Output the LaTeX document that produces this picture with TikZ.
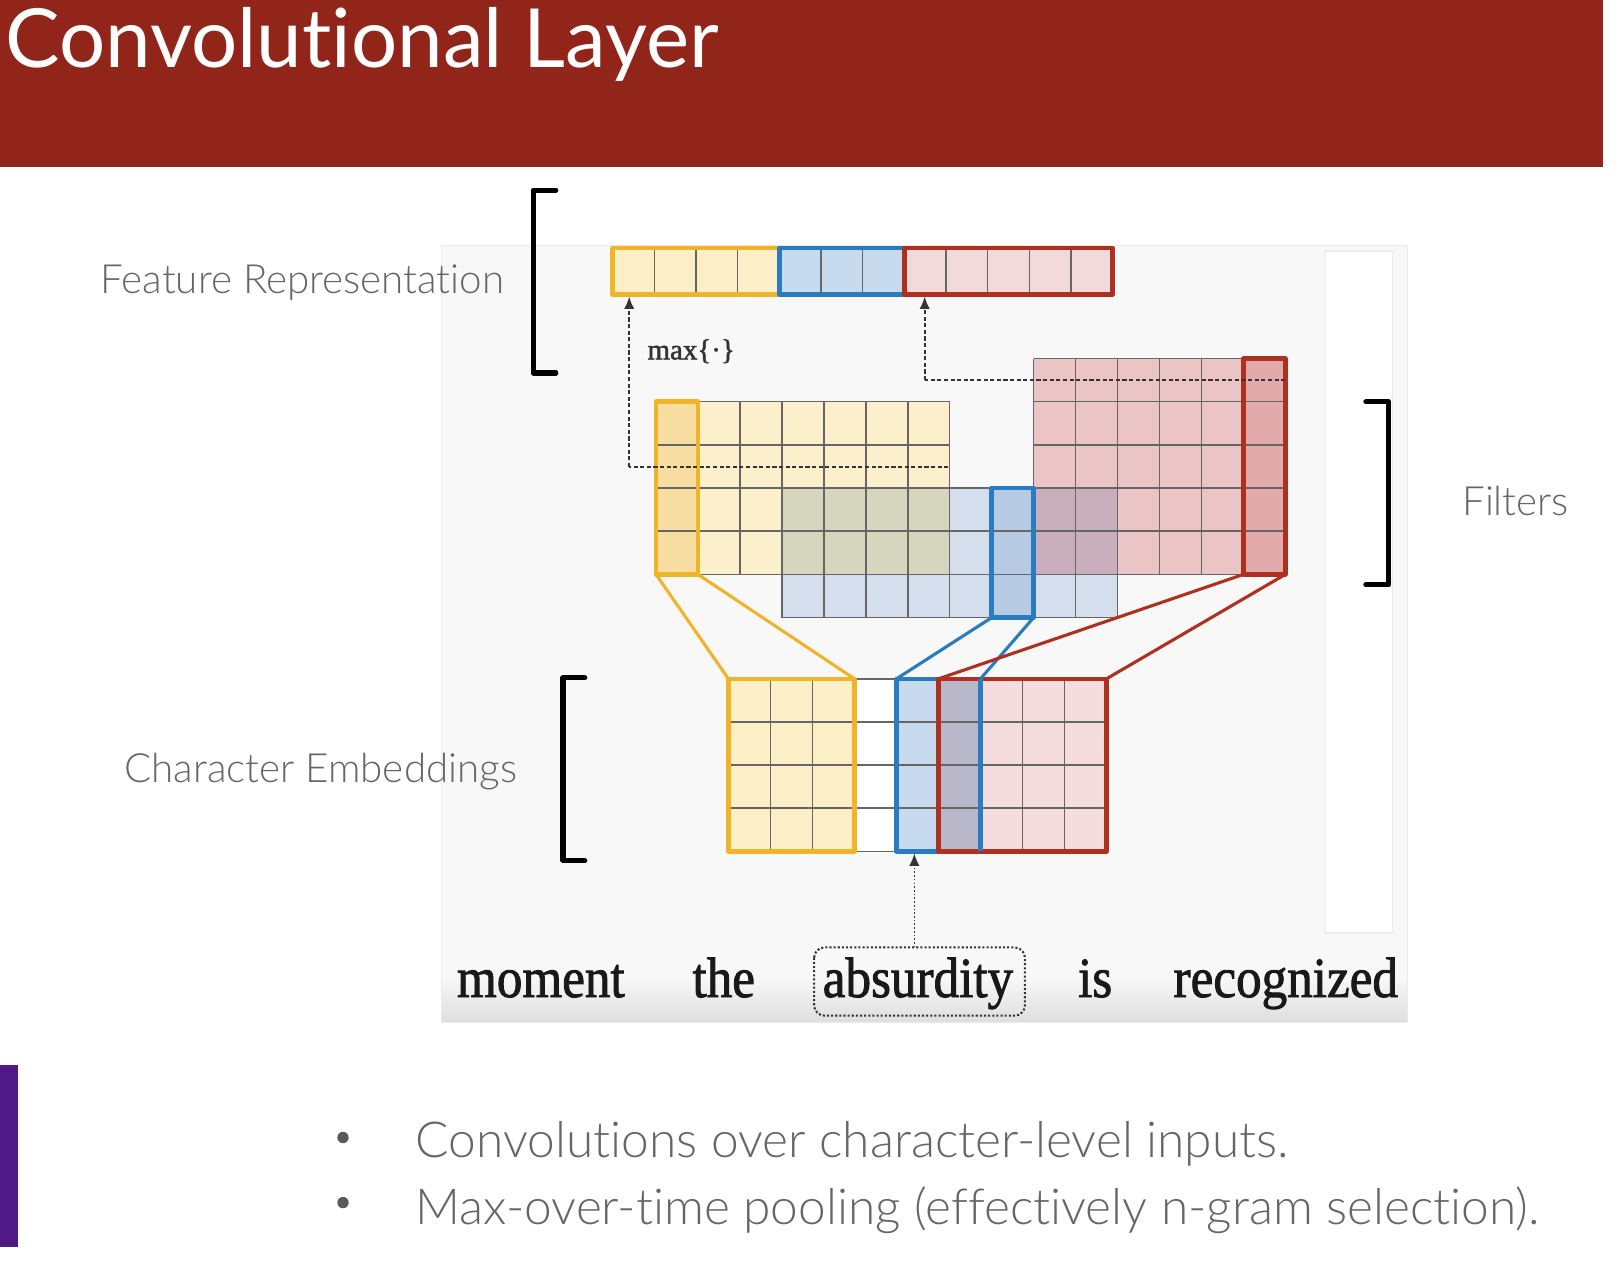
\documentclass[tikz,border=0pt]{standalone}
\usepackage{fontspec}
\usepackage{graphicx}
\usetikzlibrary{arrows.meta}
\setmainfont{Lato}[Ligatures=NoCommon]
\IfFontExistsTF{Lato Light}{\newfontfamily\lightfont{Lato Light}[Ligatures=NoCommon]}{\newfontfamily\lightfont{Lato}[Ligatures=NoCommon]}
\newfontfamily\titlefont{Lato}[Ligatures=NoCommon]
\newfontfamily\wordfont{Liberation Serif}[FakeBold=1.6]

\definecolor{titlered}{HTML}{92251A}
\definecolor{sidepurple}{HTML}{4F1A86}
\definecolor{labelgray}{HTML}{666666}
\definecolor{panelbg}{HTML}{F8F8F8}
\definecolor{gline}{HTML}{666666}
\definecolor{yborder}{HTML}{F0B428}
\definecolor{bborder}{HTML}{2A7CC0}
\definecolor{rborder}{HTML}{B0301F}
\definecolor{yfill}{HTML}{FBF0CB}
\definecolor{yhigh}{HTML}{F8DDA0}
\definecolor{bfill}{HTML}{D4DEEC}
\definecolor{bhigh}{HTML}{B6CAE3}
\definecolor{rfill}{HTML}{EBC5C6}
\definecolor{rhigh}{HTML}{E2AAAA}
\definecolor{ybover}{HTML}{D6D5BD}
\definecolor{brover}{HTML}{C8AFBB}
\definecolor{fyfill}{HTML}{FCEFC8}
\definecolor{fbfill}{HTML}{C8DAEE}
\definecolor{frfill}{HTML}{F3DADA}
\definecolor{ebover}{HTML}{B9B8CB}
\definecolor{erfill}{HTML}{F5DDDF}

\newcommand\mygrid[6]{%
  \foreach \i in {0,...,#3} \draw[gridl] ({#1+\i*#5},#2) -- ({#1+\i*#5},{#2+#4*#6});
  \foreach \j in {0,...,#4} \draw[gridl] (#1,{#2+\j*#6}) -- ({#1+#3*#5},{#2+\j*#6});
}

\tikzset{
  gridl/.style={draw=gline, line width=0.75pt},
  hiy/.style={draw=yborder, line width=2.2pt, line join=round},
  hib/.style={draw=bborder, line width=2.2pt, line join=round},
  hir/.style={draw=rborder, line width=2.2pt, line join=round},
  cony/.style={draw=yborder, line width=1.5pt},
  conb/.style={draw=bborder, line width=1.5pt},
  conr/.style={draw=rborder, line width=1.5pt},
  dashy/.style={draw=black!80, line width=0.9pt, dash pattern=on 2pt off 1.2pt},
  tip/.style={-{Latex[length=6pt,width=5pt]}},
  brack/.style={draw=black, line width=2.5pt, line join=round, line cap=round},
  label/.style={font=\lightfont\fontsize{19.5pt}{24pt}\selectfont, text=labelgray, inner sep=0pt},
  bullettext/.style={font=\lightfont\fontsize{24pt}{29pt}\selectfont, text=labelgray, inner sep=0pt},
  word/.style={font=\wordfont\fontsize{27.5pt}{32pt}\selectfont, text=black!90, inner sep=0pt, anchor=base},
}

\begin{document}
\begin{tikzpicture}[x=0.5pt,y=-0.5pt]
\useasboundingbox (0,0) rectangle (1568,1229);
\fill[white] (0,0) rectangle (1568,1229);

% title bar
\fill[titlered] (0,0) rectangle (1552,162);
\node[anchor=base west, inner sep=0pt, text=white, font=\titlefont\fontsize{39.5pt}{48pt}\selectfont] (title) at (5,65) {Convolutional Layer};

% side purple bar
\fill[sidepurple] (0,1031) rectangle (17,1207);

% panel
\fill[panelbg] (427,238) rectangle (1362,990);
\shade[top color=panelbg, bottom color=black!13] (427,945) rectangle (1362,990);
\draw[black!8, line width=0.5pt] (427,238) rectangle (1362,990);
\fill[white] (1283,243) rectangle (1348,903);
\draw[black!7, line width=0.6pt] (1283,243) rectangle (1348,903);

% labels
\node[label, anchor=base west] (lfeat) at (97,284) {Feature Representation};
\node[label, anchor=base west] (lchar) at (120,757) {Character Embeddings};
\node[label, anchor=base west] (lfilt) at (1415,499) {Filters};

% brackets
\draw[brack] (538,184) -- (516,184) -- (516,361) -- (538,361);
\draw[brack] (566,656) -- (545,656) -- (545,833) -- (566,833);
\draw[brack] (1322,389) -- (1344,389) -- (1344,566) -- (1322,566);

% ---------- filter grids ----------
% X(k)=635+40.6k, Y(j)=347+41.8j
\fill[yfill] (635,388.8) rectangle (919.2,556);
\fill[bfill] (756.8,472.4) rectangle (1081.6,597.8);
\fill[rfill] (1000.4,347) rectangle (1244,556);
\fill[ybover] (756.8,472.4) rectangle (919.2,556);
\fill[brover] (1000.4,472.4) rectangle (1081.6,556);
\fill[yhigh] (635,388.8) rectangle (675.6,556);
\fill[bhigh] (959.8,472.4) rectangle (1000.4,597.8);
\fill[rhigh] (1203.4,347) rectangle (1244,556);
\mygrid{635}{388.8}{7}{4}{40.6}{41.8}
\mygrid{756.8}{472.4}{8}{3}{40.6}{41.8}
\mygrid{1000.4}{347}{6}{5}{40.6}{41.8}

\coordinate (fyNW) at (635,388.8);   \coordinate (fySW) at (635,556);
\coordinate (fySE) at (675.6,556);
\coordinate (fbNW) at (959.8,472.4); \coordinate (fbSW) at (959.8,597.8);
\coordinate (fbSE) at (1000.4,597.8);
\coordinate (frNW) at (1203.4,347);  \coordinate (frSW) at (1203.4,556);
\coordinate (frSE) at (1244,556);

\draw[hiy] (fyNW) rectangle (fySE);
\draw[hib] (fbNW) rectangle (fbSE);
\draw[hir] (frNW) rectangle (frSE);

% ---------- feature bar ----------
% F(k)=593+40.33k
\fill[fyfill] (593,240) rectangle (754.3,285);
\fill[fbfill] (754.3,240) rectangle (875.3,285);
\fill[frfill] (875.3,240) rectangle (1077,285);
\mygrid{593}{240}{12}{1}{40.33}{45}
\draw[hiy] (593,240) rectangle (754.3,285);
\draw[hib] (754.3,240) rectangle (875.3,285);
\draw[hir] (875.3,240) rectangle (1077,285);
\coordinate (tgtY) at (609,287);
\coordinate (tgtR) at (895,287);

% max-pooling dashed connectors
\coordinate (dyR) at (918,452);
\coordinate (dyC) at (609,452);
\draw[dashy] (dyR) -- (dyC);
\draw[dashy, tip] (dyC) -- (tgtY);
\coordinate (drR) at (1244,368);
\coordinate (drC) at (895,368);
\draw[dashy] (drR) -- (drC);
\draw[dashy, tip] (drC) -- (tgtR);
\node[font=\wordfont\fontsize{14pt}{16pt}\selectfont, text=black!80, inner sep=0pt] (maxl) at (669,340) {max\{·\}};

% ---------- embeddings ----------
% C(k)=705+40.67k, E(j)=657+41.75j
\fill[fyfill] (705,657) rectangle (827,824);
\fill[white] (827,657) rectangle (867.7,824);
\fill[fbfill] (867.7,657) rectangle (908.4,824);
\fill[ebover] (908.4,657) rectangle (949,824);
\fill[erfill] (949,657) rectangle (1071,824);
\mygrid{705}{657}{9}{4}{40.67}{41.75}
\coordinate (eyNW) at (705,657); \coordinate (eyNE) at (827,657);
\coordinate (eySE) at (827,824);
\coordinate (ebNW) at (867.7,657); \coordinate (ebNE) at (949,657);
\coordinate (ebSE) at (949,824);  \coordinate (ebS) at (885,826);
\coordinate (erNW) at (908.4,657); \coordinate (erNE) at (1071,657);
\coordinate (erSE) at (1071,824);
\draw[hiy] (eyNW) rectangle (eySE);
\draw[hib] (ebNW) rectangle (ebSE);
\draw[hir] (erNW) rectangle (erSE);
\draw[draw=bborder, line width=2.2pt] (ebNE) -- (ebSE);

% connectors filter -> embeddings
\draw[cony] (fySW) -- (eyNW);
\draw[cony] (fySE) -- (eyNE);
\draw[conb] (fbSW) -- (ebNW);
\draw[conb] (fbSE) -- (ebNE);
\draw[conr] (frSW) -- (erNW);
\draw[conr] (frSE) -- (erNE);

% ---------- words ----------
\node[word] (w1) at (523.5,965) {\scalebox{0.9}[1]{moment}};
\node[word] (w2) at (700.5,965) {\scalebox{0.9}[1]{the}};
\node[word] (w3) at (888.5,965) {\scalebox{0.9}[1]{absurdity}};
\node[word] (w4) at (1060,965) {\scalebox{0.9}[1]{is}};
\node[word] (w5) at (1244.5,965) {\scalebox{0.9}[1]{recognized}};
\coordinate (absNW) at (788,917);
\coordinate (absSE) at (992,983);
\draw[draw=black!80, line width=1pt, densely dotted, rounded corners=5pt] (absNW) rectangle (absSE);
\coordinate (absN) at (885,917);
\draw[draw=black!80, line width=0.8pt, densely dotted, tip] (absN) -- (ebS);

% ---------- bullets ----------
\fill[black!65] (332,1101) circle (5.5);
\fill[black!65] (332,1164) circle (5.5);
\node[bullettext, anchor=base west] (b1) at (402,1120) {Convolutions over character-level inputs.};
\node[bullettext, anchor=base west] (b2) at (402,1185) {Max-over-time pooling (effectively n-gram selection).};
\end{tikzpicture}
\end{document}
